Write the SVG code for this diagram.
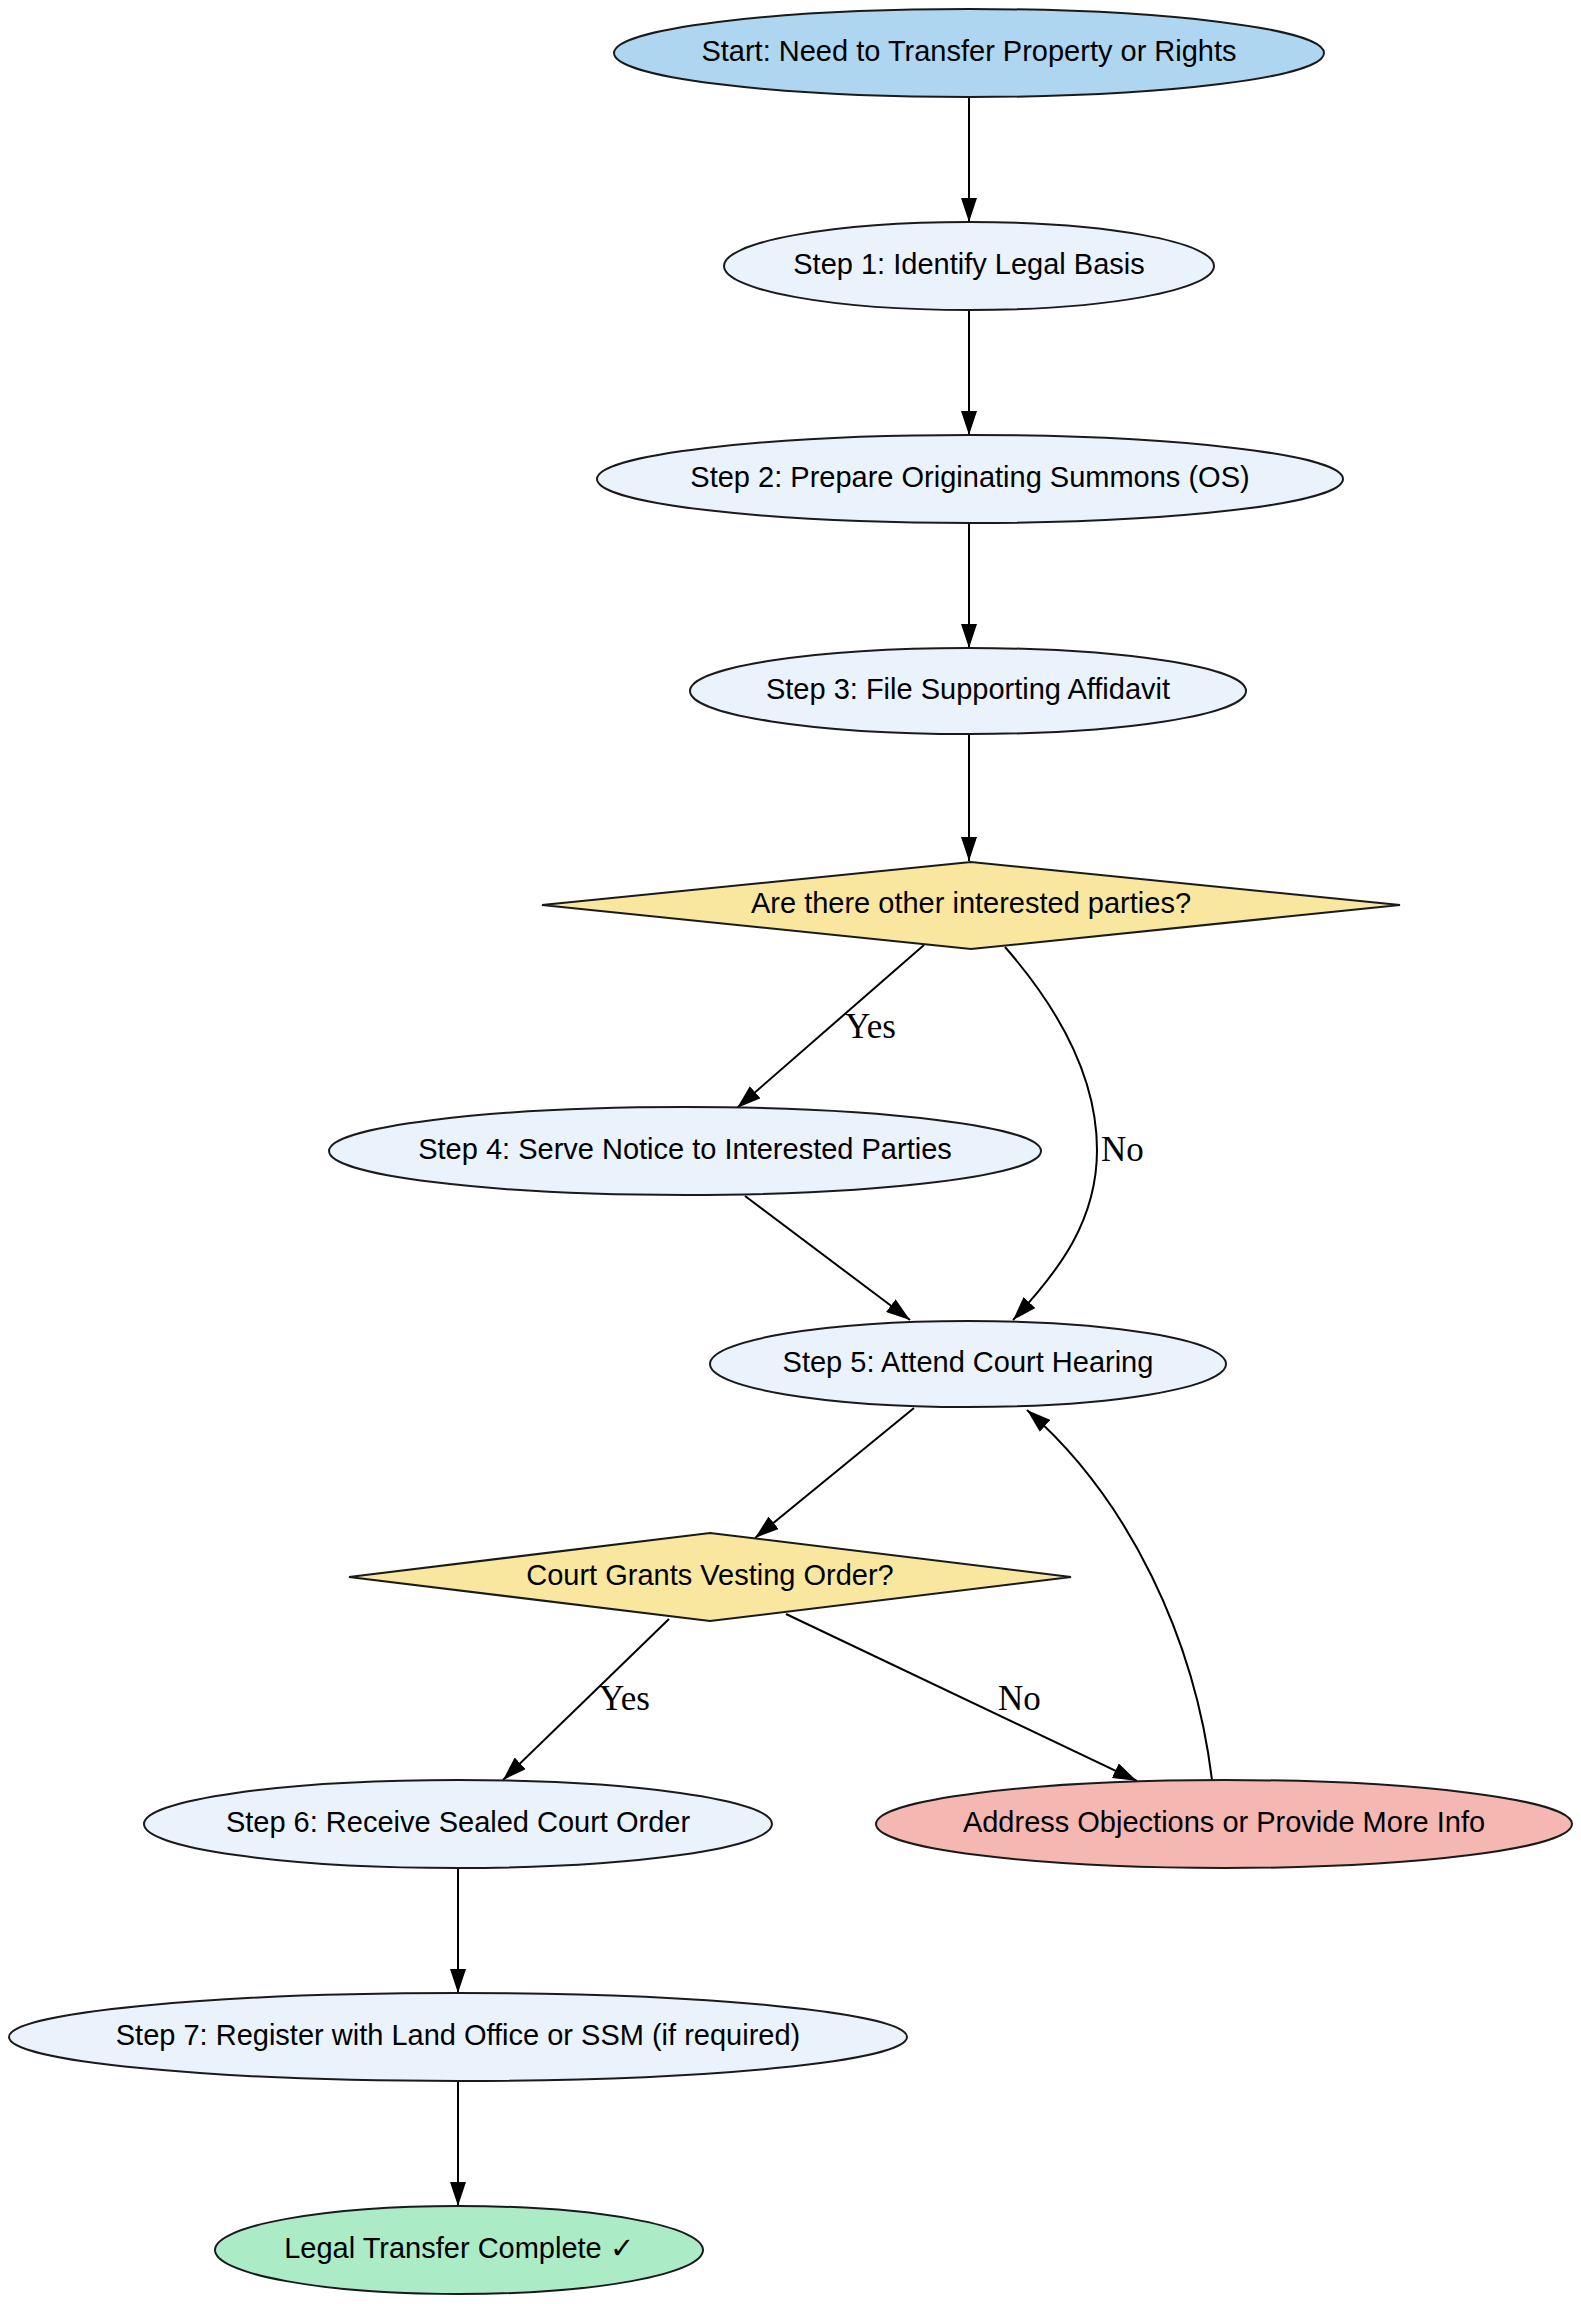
<svg xmlns="http://www.w3.org/2000/svg" width="1581" height="2304" viewBox="0 0 1581 2304">
<style>
.n{stroke:#1a1a1a;stroke-width:2}
.start{fill:#AED6F1}
.step{fill:#EAF2FB}
.dec{fill:#F9E79F}
.err{fill:#F5B7B1}
.end{fill:#ABEBC6}
.t{font-family:"Liberation Sans",Arial,sans-serif;font-size:29px;fill:#000;text-anchor:middle}
.e{fill:none;stroke:#000;stroke-width:2;marker-end:url(#ah)}
.l{font-family:"Liberation Serif","Times New Roman",serif;font-size:35px;fill:#000}
</style>
<defs>
<marker id="ah" markerUnits="userSpaceOnUse" markerWidth="24" markerHeight="16" viewBox="0 0 24 16" refX="24" refY="8" orient="auto">
<path d="M0,0 L24,8 L0,16 z" fill="#000"/>
</marker>
</defs>
<rect width="1581" height="2304" fill="#fff"/>
<g id="edges">
<path class="e" d="M969,97 L969,222"/>
<path class="e" d="M969,310 L969,435"/>
<path class="e" d="M969,523 L969,648"/>
<path class="e" d="M969,734 L969,861"/>
<path class="e" d="M924,945 L737,1108"/>
<path class="e" d="M1005,947 C1060,1010 1097,1080 1097,1150 C1097,1220 1060,1270 1013,1320"/>
<path class="e" d="M745,1196 L910,1320"/>
<path class="e" d="M914,1408 L755,1538"/>
<path class="e" d="M669,1619 L503,1780"/>
<path class="e" d="M786,1614 L1137,1781"/>
<path class="e" d="M1212,1780 C1195,1640 1130,1500 1027,1410"/>
<path class="e" d="M458,1868 L458,1993"/>
<path class="e" d="M458,2081 L458,2206"/>
<text class="l" x="845" y="1038">Yes</text>
<text class="l" x="1101" y="1161">No</text>
<text class="l" x="599" y="1710">Yes</text>
<text class="l" x="998" y="1710">No</text>
</g>
<g id="start"><ellipse class="n start" cx="969" cy="53" rx="355" ry="44"/><text class="t" x="969" y="61">Start: Need to Transfer Property or Rights</text></g>
<g id="step1"><ellipse class="n step" cx="969" cy="266" rx="245" ry="44"/><text class="t" x="969" y="274">Step 1: Identify Legal Basis</text></g>
<g id="step2"><ellipse class="n step" cx="970" cy="479" rx="373" ry="44"/><text class="t" x="970" y="487">Step 2: Prepare Originating Summons (OS)</text></g>
<g id="step3"><ellipse class="n step" cx="968" cy="691" rx="278" ry="43"/><text class="t" x="968" y="699">Step 3: File Supporting Affidavit</text></g>
<g id="decision1"><polygon class="n dec" points="542,905 971,862 1400,905 971,949"/><text class="t" x="971" y="913">Are there other interested parties?</text></g>
<g id="step4"><ellipse class="n step" cx="685" cy="1151" rx="356" ry="44"/><text class="t" x="685" y="1159">Step 4: Serve Notice to Interested Parties</text></g>
<g id="step5"><ellipse class="n step" cx="968" cy="1364" rx="258" ry="43"/><text class="t" x="968" y="1372">Step 5: Attend Court Hearing</text></g>
<g id="decision2"><polygon class="n dec" points="349,1577 710,1533 1071,1577 710,1621"/><text class="t" x="710" y="1585">Court Grants Vesting Order?</text></g>
<g id="step6"><ellipse class="n step" cx="458" cy="1824" rx="314" ry="44"/><text class="t" x="458" y="1832">Step 6: Receive Sealed Court Order</text></g>
<g id="address"><ellipse class="n err" cx="1224" cy="1824" rx="348" ry="44"/><text class="t" x="1224" y="1832">Address Objections or Provide More Info</text></g>
<g id="step7"><ellipse class="n step" cx="458" cy="2037" rx="449" ry="44"/><text class="t" x="458" y="2045">Step 7: Register with Land Office or SSM (if required)</text></g>
<g id="end"><ellipse class="n end" cx="459" cy="2250" rx="244" ry="44"/><text class="t" x="459" y="2258">Legal Transfer Complete ✓</text></g>
</svg>
